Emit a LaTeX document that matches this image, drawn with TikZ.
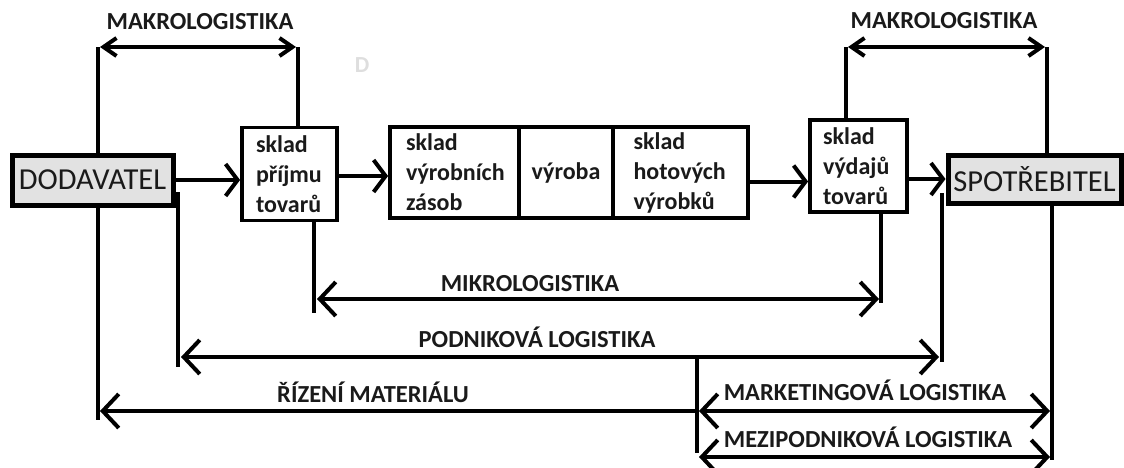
\documentclass[tikz,border=0pt]{standalone}
\usepackage{fontspec}
\setmainfont{Carlito}
\usetikzlibrary{arrows.meta}
\definecolor{ink}{HTML}{1A1A1A}
\definecolor{boxgray}{HTML}{E2E2E2}
\definecolor{ghost}{HTML}{DEDEDE}
\tikzset{
  ln/.style={line width=4pt, draw=black},
  bx/.style={draw=black, line width=3.8pt, fill=white, inner sep=0pt, align=left,
    font=\bfseries\fontsize{24}{30}\selectfont, text=ink},
  endbox/.style={draw=black, line width=5pt, fill=boxgray, inner sep=0pt,
    font=\fontsize{30.5}{33}\selectfont, text=ink},
  lbl/.style={font=\bfseries\fontsize{24.5}{27}\selectfont, text=ink, anchor=base, inner sep=0pt},
  flow/.style={ln, -{Straight Barb[length=12pt,width=32pt]}},
  span/.style={ln, {Straight Barb[length=16pt,width=34pt]}-{Straight Barb[length=16pt,width=34pt]}},
  spansmall/.style={ln, {Straight Barb[length=13pt,width=18pt]}-{Straight Barb[length=13pt,width=18pt]}},
  lefttip/.style={ln, -{Straight Barb[length=16pt,width=34pt]}}
}
\begin{document}
\begin{tikzpicture}[x=1pt,y=-1pt]
\useasboundingbox (0,0) rectangle (1124,468);

% boxes
\node[endbox, minimum width=161pt, minimum height=50pt] (dod) at (92.5,180) {DODAVATEL};
\node[bx, minimum width=95pt, minimum height=93pt, text width=67pt] (prij) at (289.5,174) {sklad\\příjmu\\tovarů};
\node[bx, minimum width=129pt, minimum height=91pt, text width=97pt] (zas) at (454.5,172.5) {sklad\\výrobních\\zásob};
\node[bx, minimum width=94pt, minimum height=91pt] (vyr) at (566,172.5) {výroba};
\node[bx, minimum width=135pt, minimum height=91pt, text width=94pt] (hot) at (680.5,172.5) {sklad\\hotových\\výrobků};
\node[bx, minimum width=97pt, minimum height=92pt, text width=71pt] (vyd) at (858.5,166) {sklad\\výdajů\\tovarů};
\node[endbox, minimum width=173pt, minimum height=48pt] (spot) at (1034.5,179) {SPOTŘEBITEL};

% faint stray letter
\node[font=\bfseries\fontsize{23}{25}\selectfont, text=ghost, inner sep=0pt] (ghostD) at (362,65) {D};

% flow arrows
\draw[flow] (dod.east) -- (dod.east -| prij.west);
\draw[flow] ([yshift=-2pt]prij.east) -- ([yshift=-2pt]prij.east -| zas.west);
\draw[flow] ([yshift=-9pt]hot.east) -- ([yshift=-9pt]hot.east -| vyd.west);
\draw[flow] (vyd.east |- spot.west) -- (spot.west);

% top makrologistika (left)
\coordinate (mkLa) at (98,47);
\coordinate (mkLb) at (298,47);
\draw[ln] (dod.north -| mkLa) -- (mkLa);
\draw[ln] (prij.north -| mkLb) -- (mkLb);
\draw[spansmall] ([xshift=2pt]mkLa) -- ([xshift=-2pt]mkLb);
\node[lbl] (makro1) at (200,30) {MAKROLOGISTIKA};

% top makrologistika (right)
\coordinate (mkRa) at (846,47);
\coordinate (mkRb) at (1047,47);
\draw[ln] (vyd.north -| mkRa) -- (mkRa);
\draw[ln] (spot.north -| mkRb) -- (mkRb);
\draw[spansmall] ([xshift=2pt]mkRa) -- ([xshift=-2pt]mkRb);
\node[lbl] (makro2) at (944,29) {MAKROLOGISTIKA};

% verticals below
\coordinate (dodDown) at (98,420);
\draw[ln] (dod.south -| dodDown) -- (dodDown);
\coordinate (podTop) at (178,192);
\coordinate (podBot) at (178,367);
\draw[ln] (podTop) -- (podBot);
\coordinate (mikBotL) at (314,313);
\draw[ln] (prij.south -| mikBotL) -- (mikBotL);
\coordinate (mikBotR) at (881,303);
\draw[ln] (vyd.south -| mikBotR) -- (mikBotR);
\coordinate (podTopR) at (942,193);
\coordinate (podBotR) at (942,362);
\draw[ln] (podTopR) -- (podBotR);
\coordinate (spotDown) at (1052,460);
\draw[ln] (spot.south -| spotDown) -- (spotDown);
\coordinate (mktTop) at (697,357);
\coordinate (mktBot) at (697,453);
\draw[ln] (mktTop) -- (mktBot);

% mikrologistika
\coordinate (mikA) at (317,299);
\coordinate (mikB) at (879,299);
\draw[span] (mikA) -- (mikB);
\node[lbl] (mikro) at (530,291) {MIKROLOGISTIKA};

% podnikova logistika
\coordinate (podA) at (181,357);
\coordinate (podB) at (939,357);
\draw[span] (podA) -- (podB);
\node[lbl] (podnik) at (537,347) {PODNIKOVÁ LOGISTIKA};

% rizeni materialu
\coordinate (rizA) at (100,411);
\draw[lefttip] (mktTop |- rizA) -- (rizA);
\node[lbl] (rizeni) at (373,402) {ŘÍZENÍ MATERIÁLU};

% marketingova logistika
\coordinate (mktA) at (699,411);
\coordinate (mktB) at (1050,411);
\draw[span] (mktA) -- (mktB);
\node[lbl] (market) at (865,400) {MARKETINGOVÁ LOGISTIKA};

% mezipodnikova logistika
\coordinate (mezA) at (699,457);
\coordinate (mezB) at (1050,457);
\draw[span] (mezA) -- (mezB);
\node[lbl] (mezi) at (868,447) {MEZIPODNIKOVÁ LOGISTIKA};
\end{tikzpicture}
\end{document}
